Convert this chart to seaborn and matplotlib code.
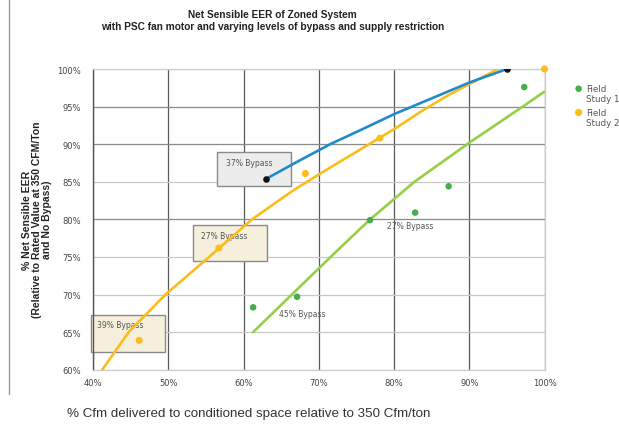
import numpy as np
import pandas as pd
import matplotlib
matplotlib.use('Agg')
import matplotlib.pyplot as plt
from matplotlib.patches import Rectangle
from matplotlib.lines import Line2D
from matplotlib import ticker as mticker
import seaborn as sns

# 37% bypass curve (blue)
blue_x = [63, 67, 71.5, 76, 80, 85, 90, 95]
blue_y = [85.4, 87.6, 90.0, 92.1, 94.0, 96.1, 98.2, 100.0]

# trend line through field study 2 (yellow)
yellow_fit_x = [41.2, 44.7, 49.6, 55.4, 61.1, 66.5, 71.5, 76, 80, 83.5, 87, 90, 93.8]
yellow_fit_y = [60.0, 65.0, 70.0, 75.0, 80.0, 83.8, 86.9, 89.6, 92.0, 94.3, 96.4, 98.0, 100.0]

# trend line through field study 1 (green)
green_fit_x = [61.25, 66.4, 71.55, 76.7, 82.7, 90.0, 97.1, 100.0]
green_fit_y = [65.0, 70.0, 75.0, 79.9, 85.0, 90.2, 95.0, 97.0]

# field study points
study1_x = [61.25, 67.1, 76.8, 82.8, 87.25, 97.3]
study1_y = [68.3, 69.7, 79.9, 80.9, 84.4, 97.6]
study2_x = [46.1, 56.7, 68.2, 78.1, 100.0]
study2_y = [63.9, 76.2, 86.1, 90.8, 100.0]

x_ticks = [40, 50, 60, 70, 80, 90, 100]
y_ticks = [60, 65, 70, 75, 80, 85, 90, 95, 100]

BLUE = '#1f8bcb'
YELLOW = '#fbbd1c'
GREEN_LINE = '#95cf45'
GREEN_PT = '#47ad4c'


def main():
    sns.set_style('white')
    plt.rcParams['font.family'] = ['DejaVu Sans']
    fig = plt.figure(figsize=(6.19, 4.27), dpi=100)
    ax = fig.add_axes([0.1507, 0.1318, 0.729, 0.7042])

    # boxed labels (behind the lines)
    boxes = [
        ('37% Bypass', 56.5, 84.4, 9.8, 4.6, '#ececec', 57.6, 87.5),
        ('27% Bypass', 53.3, 74.4, 9.8, 4.8, '#f6efdc', 54.3, 77.8),
        ('39% Bypass', 39.65, 62.3, 9.85, 5.0, '#f6efdc', 40.5, 66.0),
    ]
    for txt, bx, by, bw, bh, fc, tx, ty in boxes:
        ax.add_patch(Rectangle((bx, by), bw, bh, facecolor=fc, edgecolor='#8a8a8a',
                               linewidth=1.0, clip_on=False, zorder=2))
        ax.text(tx, ty, txt, fontsize=5.5, color='#555555', va='center', ha='left', zorder=3)

    ax.text(79.1, 79.2, '27% Bypass', fontsize=5.5, color='#555555', va='center', zorder=3)
    ax.text(64.7, 67.5, '45% Bypass', fontsize=5.5, color='#555555', va='center', zorder=3)

    sns.lineplot(x=yellow_fit_x, y=yellow_fit_y, sort=False, color=YELLOW, linewidth=1.9, ax=ax, zorder=4)
    sns.lineplot(x=green_fit_x, y=green_fit_y, sort=False, color=GREEN_LINE, linewidth=1.9, ax=ax, zorder=4)
    sns.lineplot(x=blue_x, y=blue_y, sort=False, color=BLUE, linewidth=1.9, ax=ax, zorder=5)
    ax.scatter([blue_x[0], blue_x[-1]], [blue_y[0], blue_y[-1]], s=14, color='#111111', zorder=6)

    sns.scatterplot(x=study1_x, y=study1_y, color=GREEN_PT, s=22, edgecolor='none',
                    ax=ax, zorder=6, label='Field\nStudy 1', clip_on=False)
    sns.scatterplot(x=study2_x, y=study2_y, color=YELLOW, s=26, edgecolor='none',
                    ax=ax, zorder=6, label='Field\nStudy 2', clip_on=False)

    ax.set_xlim(40, 100)
    ax.set_ylim(60, 100)
    ax.set_xticks(x_ticks)
    ax.set_yticks(y_ticks)
    ax.xaxis.set_major_formatter(mticker.FuncFormatter(lambda v, p: '%d%%' % v))
    ax.yaxis.set_major_formatter(mticker.FuncFormatter(lambda v, p: '%d%%' % v))
    ax.tick_params(axis='x', length=0, pad=6, labelsize=6, labelcolor='#444444')
    ax.tick_params(axis='y', length=3, width=0.8, color='#555555', pad=6, labelsize=6, labelcolor='#444444')

    ax.grid(axis='x', color='#5a5a5a', linewidth=0.9)
    ax.grid(axis='y', color='#8a8a8a', linewidth=0.9)
    light = [60, 65, 70, 75, 85, 100]
    for val, gl in zip(y_ticks, ax.get_ygridlines()):
        if val in light:
            gl.set_color('#c8c8c8')
    ax.set_axisbelow(True)

    for side in ['top', 'right', 'bottom']:
        ax.spines[side].set_color('#cccccc')
        ax.spines[side].set_linewidth(0.9)
    ax.spines['left'].set_color('#555555')
    ax.spines['left'].set_linewidth(1.0)

    ax.set_xlabel('')
    ax.set_ylabel('')

    leg = ax.legend(loc='upper left', bbox_to_anchor=(1.06, 0.962), frameon=False,
                    fontsize=6.3, handletextpad=0.5, labelspacing=0.5,
                    handlelength=0.8, handleheight=1.6, scatteryoffsets=[0.75],
                    borderaxespad=0)
    for t in leg.get_texts():
        t.set_color('#555555')

    fig.text(0.44, 1 - 15 / 427, 'Net Sensible EER of Zoned System', ha='center', va='center',
             fontsize=7.3, fontweight='bold', family=['Liberation Sans'], color='#222222')
    fig.text(0.44, 1 - 27.5 / 427, 'with PSC fan motor and varying levels of bypass and supply restriction',
             ha='center', va='center', fontsize=7.3, fontweight='bold', family=['Liberation Sans'],
             color='#222222')

    fig.text(37 / 619, 1 - 220 / 427,
             '% Net Sensible EER\n(Relative to Rated Value at 350 CFM/Ton\nand No Bypass)',
             rotation=90, ha='center', va='center', fontsize=7.5, fontweight='bold',
             family=['Liberation Sans'], color='#222222', linespacing=1.0)

    fig.text(67 / 619, 1 - 414 / 427, '% Cfm delivered to conditioned space relative to 350 Cfm/ton',
             ha='left', va='center', fontsize=9.6, family=['Liberation Sans'], color='#333333')

    fig.add_artist(Line2D([9 / 619, 9 / 619], [1.0, 1 - 395 / 427], color='#999999', linewidth=1.0))

    fig.savefig('out.png', dpi=100)


if __name__ == '__main__':
    main()
